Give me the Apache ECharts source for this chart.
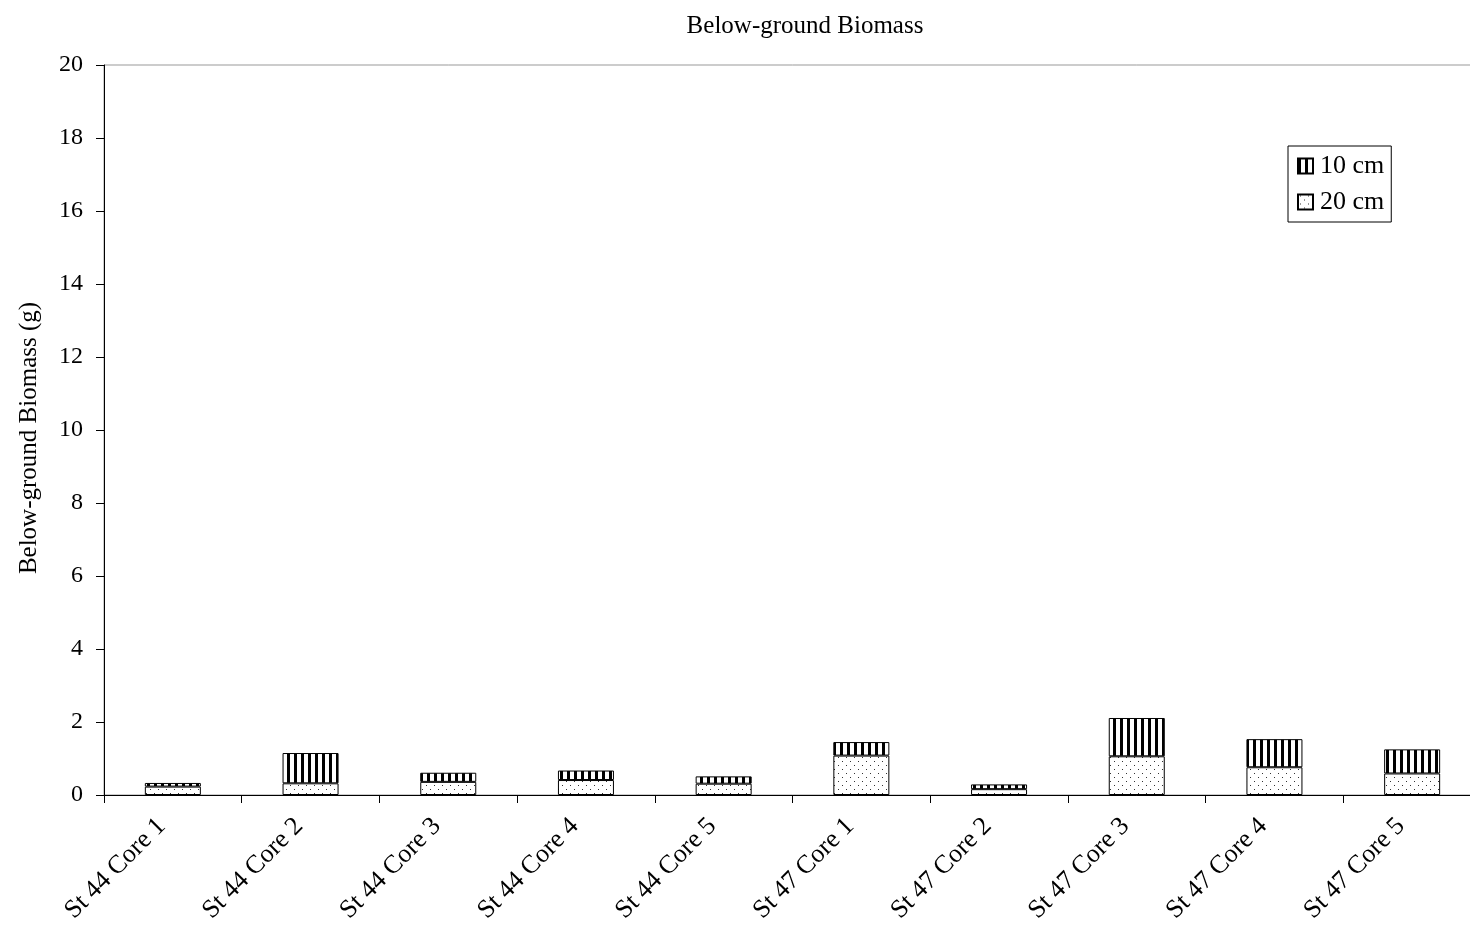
<!DOCTYPE html>
<html>
<head>
<meta charset="utf-8">
<script src="https://cdn.jsdelivr.net/npm/echarts@6/dist/echarts.min.js"></script>
<style>html,body{margin:0;padding:0;background:#fff;overflow:hidden;}#c{width:1500px;height:942px;}</style>
</head>
<body>
<div id="c"></div>
<script>
const categories = ['St 44 Core 1','St 44 Core 2','St 44 Core 3','St 44 Core 4','St 44 Core 5','St 47 Core 1','St 47 Core 2','St 47 Core 3','St 47 Core 4','St 47 Core 5'];
const cm20 = [0.23, 0.32, 0.36, 0.41, 0.31, 1.08, 0.16, 1.06, 0.76, 0.59];
const cm10 = [0.10, 0.83, 0.25, 0.26, 0.20, 0.37, 0.13, 1.05, 0.77, 0.66];
const yTicks = [0, 2, 4, 6, 8, 10, 12, 14, 16, 18, 20];

function stripePattern() {
  const c = document.createElement('canvas');
  c.width = 7; c.height = 7;
  const g = c.getContext('2d');
  g.fillStyle = '#fff'; g.fillRect(0, 0, 7, 7);
  g.fillStyle = '#000'; g.fillRect(0, 0, 3, 7);
  return c;
}
function dotPattern() {
  const c = document.createElement('canvas');
  c.width = 8; c.height = 8;
  const g = c.getContext('2d');
  g.fillStyle = '#fff'; g.fillRect(0, 0, 8, 8);
  g.fillStyle = '#333';
  g.fillRect(2, 1, 1, 1);
  g.fillRect(6, 5, 1, 1);
  return c;
}
const font = '"Liberation Serif", "Times New Roman", serif';
const chart = echarts.init(document.getElementById('c'));
chart.setOption({
  animation: false,
  backgroundColor: '#fff',
  textStyle: { fontFamily: font, color: '#000' },
  title: {
    text: 'Below-ground Biomass',
    left: 800, top: 9, textAlign: 'center',
    textStyle: { fontFamily: font, fontSize: 25, fontWeight: 'normal', color: '#000' }
  },
  legend: {
    orient: 'vertical',
    left: 1288, top: 146,
    data: ['10 cm', '20 cm'],
    icon: 'rect',
    borderColor: '#000', borderWidth: 1,
    padding: [7, 7, 7, 9],
    itemGap: 10,
    itemWidth: 15, itemHeight: 15,
    textStyle: { fontFamily: font, fontSize: 26, color: '#000', padding: [0, 0, 0, 2] }
  },
  grid: {
    left: 104, top: 65, width: 1377, height: 730,
    show: true, borderColor: '#999', borderWidth: 1, backgroundColor: 'transparent'
  },
  xAxis: {
    type: 'category',
    data: categories,
    axisLine: { lineStyle: { color: '#000', width: 1 } },
    axisTick: { show: true, length: 8, lineStyle: { color: '#000' } },
    axisLabel: { rotate: 45, fontSize: 26, color: '#000', fontFamily: font, margin: 16,
      padding: [0, 16, 0, 0], interval: 0 }
  },
  yAxis: {
    type: 'value',
    min: 0, max: 20, interval: 2,
    name: 'Below-ground Biomass (g)',
    nameLocation: 'middle', nameGap: 62,
    nameTextStyle: { fontFamily: font, fontSize: 25, color: '#000', padding: [0, 16, 0, 0] },
    axisLine: { show: true, lineStyle: { color: '#000', width: 1 } },
    axisTick: { show: true, length: 8, lineStyle: { color: '#000' } },
    axisLabel: { fontSize: 24, color: '#000', fontFamily: font, margin: 21,
      formatter: v => yTicks.indexOf(v) >= 0 ? String(v) : '' },
    splitLine: { show: false }
  },
  series: [
    {
      name: '20 cm', type: 'bar', stack: 'a', data: cm20, barWidth: 56,
      itemStyle: { color: { image: dotPattern(), repeat: 'repeat' }, borderColor: '#000', borderWidth: 1 }
    },
    {
      name: '10 cm', type: 'bar', stack: 'a', data: cm10, barWidth: 56,
      itemStyle: { color: { image: stripePattern(), repeat: 'repeat' }, borderColor: '#000', borderWidth: 1 }
    }
  ]
});
</script>
</body>
</html>
